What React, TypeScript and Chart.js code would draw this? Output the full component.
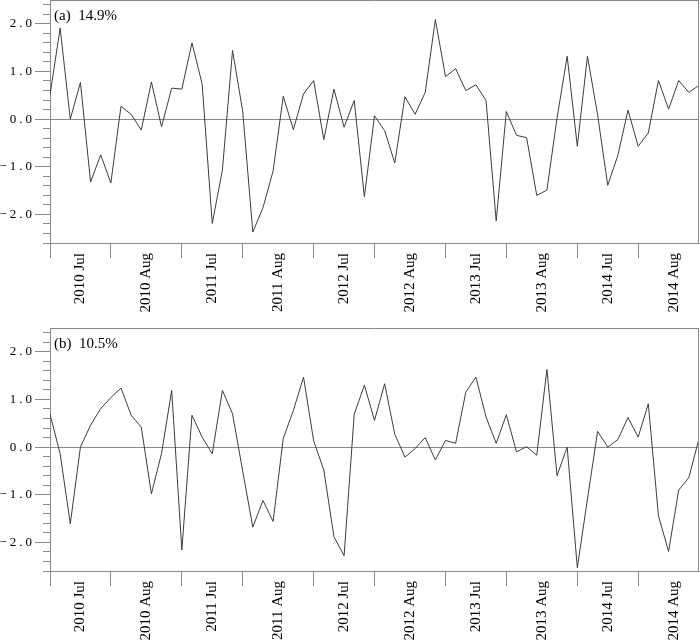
import { useEffect, useRef } from 'react';
import { Chart, registerables } from 'chart.js';

Chart.register(...registerables);

// ---- data (65 points: 13 per year, Jul–Aug, 2010–2014) ----
const seriesA = [
  0.51, 1.91, 0.0, 0.77, -1.32, -0.75, -1.34, 0.27, 0.1, -0.23, 0.78, -0.16, 0.65,
  0.63, 1.6, 0.74, -2.19, -1.07, 1.44, 0.17, -2.37, -1.86, -1.09, 0.48, -0.22, 0.53,
  0.81, -0.43, 0.63, -0.17, 0.39, -1.63, 0.07, -0.24, -0.92, 0.47, 0.1, 0.56, 2.09,
  0.89, 1.06, 0.6, 0.72, 0.39, -2.14, 0.16, -0.34, -0.39, -1.6, -1.49, 0.02, 1.32,
  -0.57, 1.32, 0.09, -1.39, -0.76, 0.19, -0.57, -0.29, 0.81, 0.21, 0.81, 0.56, 0.71,
];
const seriesB = [
  0.69, -0.14, -1.61, 0.0, 0.46, 0.81, 1.04, 1.24, 0.67, 0.42, -0.98, -0.13, 1.19,
  -2.16, 0.67, 0.21, -0.14, 1.19, 0.7, -0.5, -1.68, -1.12, -1.56, 0.18, 0.77, 1.47,
  0.13, -0.48, -1.88, -2.28, 0.69, 1.3, 0.56, 1.33, 0.27, -0.21, -0.03, 0.2, -0.27,
  0.14, 0.08, 1.15, 1.47, 0.63, 0.08, 0.68, -0.1, 0.01, -0.17, 1.63, -0.6, 0.0,
  -2.53, -1.09, 0.33, 0.0, 0.16, 0.62, 0.21, 0.91, -1.44, -2.19, -0.9, -0.64, 0.18,
];
const panelTags = ['(a)', '(b)'];
const panelPercents = ['14.9%', '10.5%'];

// x-axis: tick marks at month boundaries, labels centred inside each month
const xTickMarks = [0, 6, 13, 19, 26, 32, 39, 45, 52, 58];
const xLabelPositions = [3, 9.5, 16, 22.5, 29, 35.5, 42, 48.5, 55, 61.5];
const xTickLabels = [
  '2010 Jul', '2010 Aug', '2011 Jul', '2011 Aug', '2012 Jul',
  '2012 Aug', '2013 Jul', '2013 Aug', '2014 Jul', '2014 Aug',
];
const xMin = 0;
const xMax = 64;

// y-axis
const yMin = -2.6;
const yMax = 2.5;
const yMajorTicks = [-2, -1, 0, 1, 2];
const yTickLabels = ['\u22122.0', '\u22121.0', '0.0', '1.0', '2.0'];
const yMinorTicks = [
  -2.6, -2.4, -2.2, -1.8, -1.6, -1.4, -1.2, -0.8, -0.6, -0.4, -0.2,
  0.2, 0.4, 0.6, 0.8, 1.2, 1.4, 1.6, 1.8, 2.2, 2.4,
];

const FRAME = '#8a8a8a';
const LINE = '#3c3c3c';
const SERIF = '"Liberation Serif", "Times New Roman", serif';
const TRANSPARENT = 'rgba(0,0,0,0)';

const near = (a: number, b: number) => Math.abs(a - b) < 1e-6;

function makeChart(
  canvas: HTMLCanvasElement,
  values: number[],
  tag: string,
  pct: string,
  padTop: number,
  xAxisHeight: number,
) {
  const allX = [...xTickMarks, ...xLabelPositions].sort((a, b) => a - b);
  const allY = [...yMajorTicks, ...yMinorTicks].sort((a, b) => a - b);

  const decor = {
    id: 'decor',
    beforeDraw(chart: any) {
      const s = chart.scales.y;
      if (s && !s.__spaced) {
        const orig = s.drawLabels;
        s.drawLabels = function (area: any) {
          const c = this.ctx;
          c.save();
          (c as any).letterSpacing = '3px';
          orig.call(this, area);
          c.restore();
        };
        s.__spaced = true;
      }
    },
    afterDraw(chart: any) {
      const { ctx, chartArea } = chart;
      const { left, right, top } = chartArea;
      ctx.save();
      ctx.strokeStyle = FRAME;
      ctx.lineWidth = 1;
      ctx.beginPath();
      ctx.moveTo(left, Math.round(top) + 0.5);
      ctx.lineTo(right, Math.round(top) + 0.5);
      ctx.moveTo(Math.round(right) - 0.5, top);
      ctx.lineTo(Math.round(right) - 0.5, chartArea.bottom);
      ctx.stroke();
      ctx.fillStyle = '#000';
      ctx.font = `15px ${SERIF}`;
      ctx.textAlign = 'left';
      ctx.textBaseline = 'alphabetic';
      ctx.fillText(`${tag}  ${pct}`, left + 4, top + 19.5);
      ctx.restore();
    },
  };

  return new Chart(canvas, {
    type: 'line',
    data: {
      datasets: [
        {
          data: values.map((v, i) => ({ x: i, y: v })),
          borderColor: LINE,
          borderWidth: 1,
          pointRadius: 0,
          tension: 0,
          fill: false,
        },
      ],
    },
    options: {
      animation: false,
      responsive: false,
      maintainAspectRatio: false,
      layout: { padding: { top: padTop, right: 1, left: 0, bottom: 0 } },
      plugins: {
        legend: { display: false },
        tooltip: { enabled: false },
        title: { display: false },
      },
      scales: {
        x: {
          type: 'linear',
          position: 'bottom',
          min: xMin,
          max: xMax,
          afterBuildTicks: (s: any) => {
            s.ticks = allX.map((v) => ({ value: v }));
          },
          afterFit: (s: any) => {
            s.height = xAxisHeight;
            s.paddingLeft = 0;
            s.paddingRight = 0;
          },
          ticks: {
            autoSkip: false,
            minRotation: 90,
            maxRotation: 90,
            padding: -5,
            color: '#000',
            font: { family: SERIF, size: 15 },
            callback: (v: any) => {
              const idx = xLabelPositions.findIndex((p) => near(p, Number(v)));
              return idx >= 0 ? xTickLabels[idx] : '';
            },
          },
          grid: {
            drawOnChartArea: false,
            drawTicks: true,
            tickLength: 15,
            tickWidth: 1,
            tickColor: (c: any) =>
              xTickMarks.some((p) => near(p, Number(c.tick?.value))) ? FRAME : TRANSPARENT,
          },
          border: { display: true, color: FRAME, width: 1 },
        },
        y: {
          type: 'linear',
          min: yMin,
          max: yMax,
          afterBuildTicks: (s: any) => {
            s.ticks = allY.map((v) => ({ value: v }));
          },
          afterFit: (s: any) => {
            s.width = 50;
            s.paddingTop = 0;
            s.paddingBottom = 0;
          },
          ticks: {
            autoSkip: false,
            padding: 0,
            color: '#000',
            font: { family: SERIF, size: 13 },
            callback: (v: any) => {
              const idx = yMajorTicks.findIndex((p) => near(p, Number(v)));
              return idx >= 0 ? yTickLabels[idx] : '';
            },
          },
          grid: {
            drawOnChartArea: true,
            drawTicks: true,
            tickLength: 15,
            tickWidth: 1,
            lineWidth: 1,
            color: (c: any) => (near(Number(c.tick?.value), 0) ? FRAME : TRANSPARENT),
            tickColor: FRAME,
            tickBorderDash: (c: any) =>
              yMajorTicks.some((p) => near(p, Number(c.tick?.value))) ? [] : [0, 8, 7, 100],
          } as any,
          border: { display: true, color: FRAME, width: 1 },
        },
      },
    } as any,
    plugins: [decor],
  });
}

function Panel(props: {
  values: number[];
  tag: string;
  pct: string;
  padTop: number;
  xAxisHeight: number;
  height: number;
}) {
  const ref = useRef<HTMLCanvasElement>(null);
  useEffect(() => {
    const chart = makeChart(
      ref.current!,
      props.values,
      props.tag,
      props.pct,
      props.padTop,
      props.xAxisHeight,
    );
    return () => chart.destroy();
  }, []);
  return (
    <canvas
      ref={ref}
      width={700}
      height={props.height}
      style={{ display: 'block', width: 700, height: props.height }}
    />
  );
}

export default function App() {
  return (
    <div
      style={{
        position: 'absolute',
        left: 0,
        top: 0,
        width: 700,
        height: 642,
        background: '#fff',
      }}
    >
      <Panel values={seriesA} tag={panelTags[0]} pct={panelPercents[0]} padTop={0} xAxisHeight={78} height={321} />
      <Panel values={seriesB} tag={panelTags[1]} pct={panelPercents[1]} padTop={7} xAxisHeight={71} height={321} />
    </div>
  );
}
